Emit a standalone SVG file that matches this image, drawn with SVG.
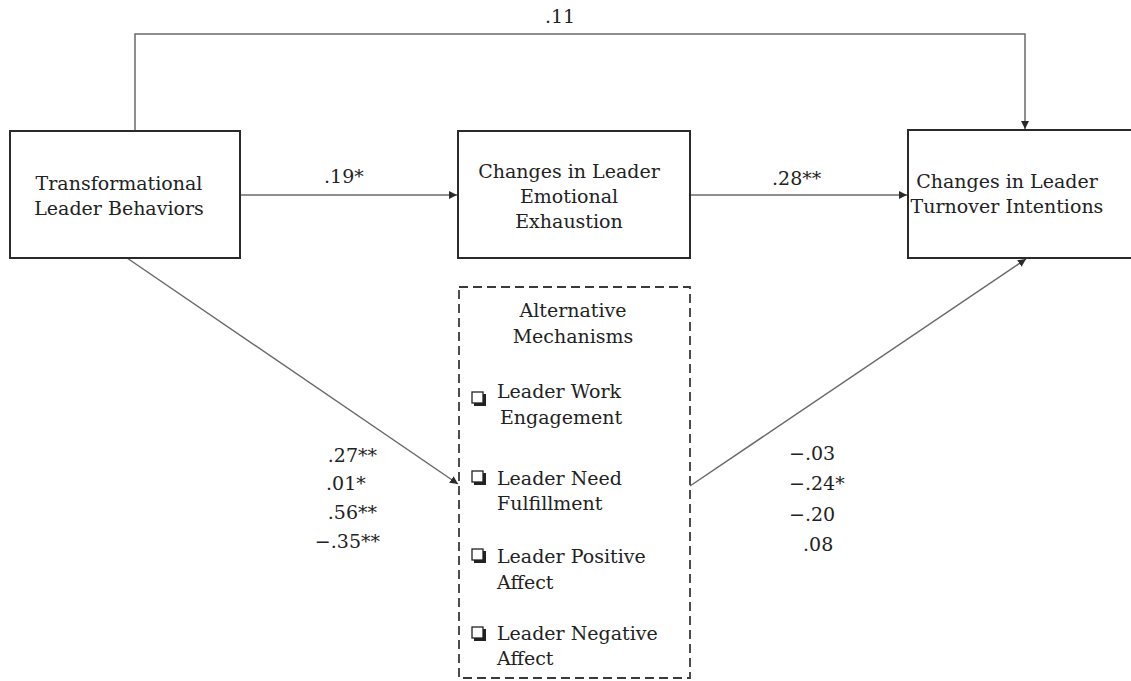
<svg xmlns="http://www.w3.org/2000/svg" width="1131" height="681" viewBox="0 0 1131 681">
<style>
.box{fill:#fff;stroke:#2a2a2a;stroke-width:2}
.dash{fill:none;stroke:#3a3a3a;stroke-width:1.8;stroke-dasharray:9 5}
.con{fill:none;stroke:#6a6a6a;stroke-width:1.5}
.t2{font-family:"DejaVu Serif",serif;font-size:19px;fill:#222}
.cb{fill:#fff;stroke:#222;stroke-width:1.3}
.cbs{fill:#222}
</style>
<defs>
<marker id="ah" viewBox="0 0 10 10" refX="10" refY="5" markerWidth="8" markerHeight="8" markerUnits="userSpaceOnUse" orient="auto">
<path d="M0,0 L10,5 L0,10 z" fill="#2a2a2a"/>
</marker>
</defs>
<g id="connectors">
<path class="con" d="M135,130 V34 H1025 V129" marker-end="url(#ah)"/>
<line class="con" x1="240" y1="195" x2="457" y2="195" marker-end="url(#ah)"/>
<line class="con" x1="690" y1="195" x2="907" y2="195" marker-end="url(#ah)"/>
<line class="con" x1="127" y1="258" x2="458" y2="484" marker-end="url(#ah)"/>
<line class="con" x1="690" y1="486" x2="1026" y2="259" marker-end="url(#ah)"/>
<text class="t2" x="560" y="23" text-anchor="middle">.11</text>
<text class="t2" x="324" y="183">.19*</text>
<text class="t2" x="772" y="185">.28**</text>
<text class="t2" x="377" y="462" text-anchor="end">.27**</text>
<text class="t2" x="326" y="490">.01*</text>
<text class="t2" x="377" y="519" text-anchor="end">.56**</text>
<text class="t2" x="380" y="548" text-anchor="end">−.35**</text>
<text class="t2" x="789" y="460">−.03</text>
<text class="t2" x="789" y="490">−.24*</text>
<text class="t2" x="789" y="521">−.20</text>
<text class="t2" x="803" y="551">.08</text>
</g>
<g id="transformational">
<rect class="box" x="10" y="131" width="230" height="127"/>
<text class="t2" x="119" y="190" text-anchor="middle">Transformational</text>
<text class="t2" x="119" y="215" text-anchor="middle">Leader Behaviors</text>
</g>
<g id="exhaustion">
<rect class="box" x="458" y="131" width="232" height="127"/>
<text class="t2" x="569" y="178" text-anchor="middle">Changes in Leader</text>
<text class="t2" x="569" y="203" text-anchor="middle">Emotional</text>
<text class="t2" x="569" y="228" text-anchor="middle">Exhaustion</text>
</g>
<g id="turnover">
<rect class="box" x="908" y="130" width="240" height="128"/>
<text class="t2" x="1007" y="188" text-anchor="middle">Changes in Leader</text>
<text class="t2" x="1007" y="213" text-anchor="middle">Turnover Intentions</text>
</g>
<g id="alternative">
<rect class="dash" x="459" y="287" width="231" height="391"/>
<text class="t2" x="573" y="317" text-anchor="middle">Alternative</text>
<text class="t2" x="573" y="343" text-anchor="middle">Mechanisms</text>
<rect class="cbs" x="474" y="394" width="12" height="12"/>
<rect class="cb" x="472" y="392" width="11" height="11"/>
<text class="t2" x="497" y="398">Leader Work</text>
<text class="t2" x="500" y="424">Engagement</text>
<rect class="cbs" x="474" y="473" width="12" height="12"/>
<rect class="cb" x="472" y="471" width="11" height="11"/>
<text class="t2" x="497" y="485">Leader Need</text>
<text class="t2" x="497" y="510">Fulfillment</text>
<rect class="cbs" x="474" y="551" width="12" height="12"/>
<rect class="cb" x="472" y="549" width="11" height="11"/>
<text class="t2" x="497" y="563">Leader Positive</text>
<text class="t2" x="497" y="589">Affect</text>
<rect class="cbs" x="474" y="629" width="12" height="12"/>
<rect class="cb" x="472" y="627" width="11" height="11"/>
<text class="t2" x="497" y="640">Leader Negative</text>
<text class="t2" x="497" y="665">Affect</text>
</g>
</svg>
